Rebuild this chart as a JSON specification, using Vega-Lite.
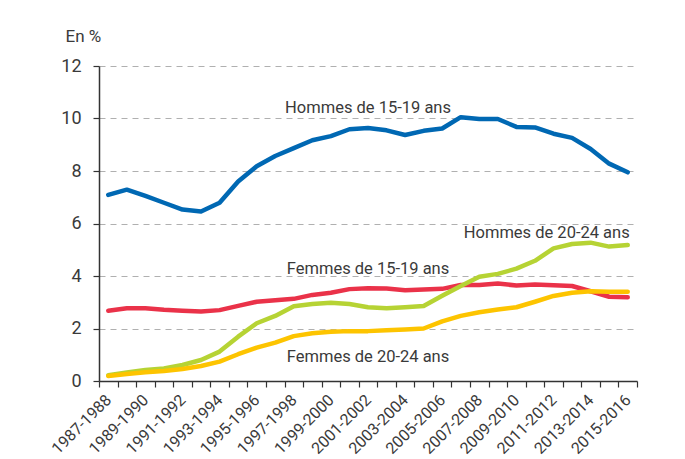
{
  "$schema": "https://vega.github.io/schema/vega-lite/v6.json",
  "width": 538,
  "height": 315,
  "autosize": {"type": "none"},
  "padding": {"left": 99, "top": 66, "right": 48, "bottom": 78},
  "background": "white",
  "config": {
    "view": {"stroke": null},
    "font": "Roboto",
    "text": {"font": "Roboto"}
  },
  "datasets": {
    "taux": [
      {"periode": "1987-1988", "serie": "Femmes de 15-19 ans", "taux": 2.68},
      {"periode": "1988-1989", "serie": "Femmes de 15-19 ans", "taux": 2.77},
      {"periode": "1989-1990", "serie": "Femmes de 15-19 ans", "taux": 2.77},
      {"periode": "1990-1991", "serie": "Femmes de 15-19 ans", "taux": 2.71},
      {"periode": "1991-1992", "serie": "Femmes de 15-19 ans", "taux": 2.68},
      {"periode": "1992-1993", "serie": "Femmes de 15-19 ans", "taux": 2.65},
      {"periode": "1993-1994", "serie": "Femmes de 15-19 ans", "taux": 2.70},
      {"periode": "1994-1995", "serie": "Femmes de 15-19 ans", "taux": 2.86},
      {"periode": "1995-1996", "serie": "Femmes de 15-19 ans", "taux": 3.02},
      {"periode": "1996-1997", "serie": "Femmes de 15-19 ans", "taux": 3.08},
      {"periode": "1997-1998", "serie": "Femmes de 15-19 ans", "taux": 3.13},
      {"periode": "1998-1999", "serie": "Femmes de 15-19 ans", "taux": 3.28},
      {"periode": "1999-2000", "serie": "Femmes de 15-19 ans", "taux": 3.36},
      {"periode": "2000-2001", "serie": "Femmes de 15-19 ans", "taux": 3.50},
      {"periode": "2001-2002", "serie": "Femmes de 15-19 ans", "taux": 3.53},
      {"periode": "2002-2003", "serie": "Femmes de 15-19 ans", "taux": 3.52},
      {"periode": "2003-2004", "serie": "Femmes de 15-19 ans", "taux": 3.46},
      {"periode": "2004-2005", "serie": "Femmes de 15-19 ans", "taux": 3.49},
      {"periode": "2005-2006", "serie": "Femmes de 15-19 ans", "taux": 3.51},
      {"periode": "2006-2007", "serie": "Femmes de 15-19 ans", "taux": 3.66},
      {"periode": "2007-2008", "serie": "Femmes de 15-19 ans", "taux": 3.66},
      {"periode": "2008-2009", "serie": "Femmes de 15-19 ans", "taux": 3.71},
      {"periode": "2009-2010", "serie": "Femmes de 15-19 ans", "taux": 3.64},
      {"periode": "2010-2011", "serie": "Femmes de 15-19 ans", "taux": 3.68},
      {"periode": "2011-2012", "serie": "Femmes de 15-19 ans", "taux": 3.65},
      {"periode": "2012-2013", "serie": "Femmes de 15-19 ans", "taux": 3.62},
      {"periode": "2013-2014", "serie": "Femmes de 15-19 ans", "taux": 3.42},
      {"periode": "2014-2015", "serie": "Femmes de 15-19 ans", "taux": 3.21},
      {"periode": "2015-2016", "serie": "Femmes de 15-19 ans", "taux": 3.19},
      {"periode": "1987-1988", "serie": "Hommes de 20-24 ans", "taux": 0.22},
      {"periode": "1988-1989", "serie": "Hommes de 20-24 ans", "taux": 0.32},
      {"periode": "1989-1990", "serie": "Hommes de 20-24 ans", "taux": 0.42},
      {"periode": "1990-1991", "serie": "Hommes de 20-24 ans", "taux": 0.48},
      {"periode": "1991-1992", "serie": "Hommes de 20-24 ans", "taux": 0.61},
      {"periode": "1992-1993", "serie": "Hommes de 20-24 ans", "taux": 0.80},
      {"periode": "1993-1994", "serie": "Hommes de 20-24 ans", "taux": 1.12},
      {"periode": "1994-1995", "serie": "Hommes de 20-24 ans", "taux": 1.69},
      {"periode": "1995-1996", "serie": "Hommes de 20-24 ans", "taux": 2.20},
      {"periode": "1996-1997", "serie": "Hommes de 20-24 ans", "taux": 2.48},
      {"periode": "1997-1998", "serie": "Hommes de 20-24 ans", "taux": 2.85},
      {"periode": "1998-1999", "serie": "Hommes de 20-24 ans", "taux": 2.93},
      {"periode": "1999-2000", "serie": "Hommes de 20-24 ans", "taux": 2.98},
      {"periode": "2000-2001", "serie": "Hommes de 20-24 ans", "taux": 2.93},
      {"periode": "2001-2002", "serie": "Hommes de 20-24 ans", "taux": 2.81},
      {"periode": "2002-2003", "serie": "Hommes de 20-24 ans", "taux": 2.77},
      {"periode": "2003-2004", "serie": "Hommes de 20-24 ans", "taux": 2.81},
      {"periode": "2004-2005", "serie": "Hommes de 20-24 ans", "taux": 2.86},
      {"periode": "2005-2006", "serie": "Hommes de 20-24 ans", "taux": 3.25},
      {"periode": "2006-2007", "serie": "Hommes de 20-24 ans", "taux": 3.62},
      {"periode": "2007-2008", "serie": "Hommes de 20-24 ans", "taux": 3.97},
      {"periode": "2008-2009", "serie": "Hommes de 20-24 ans", "taux": 4.08},
      {"periode": "2009-2010", "serie": "Hommes de 20-24 ans", "taux": 4.28},
      {"periode": "2010-2011", "serie": "Hommes de 20-24 ans", "taux": 4.58},
      {"periode": "2011-2012", "serie": "Hommes de 20-24 ans", "taux": 5.05},
      {"periode": "2012-2013", "serie": "Hommes de 20-24 ans", "taux": 5.22},
      {"periode": "2013-2014", "serie": "Hommes de 20-24 ans", "taux": 5.27},
      {"periode": "2014-2015", "serie": "Hommes de 20-24 ans", "taux": 5.12},
      {"periode": "2015-2016", "serie": "Hommes de 20-24 ans", "taux": 5.18},
      {"periode": "1987-1988", "serie": "Femmes de 20-24 ans", "taux": 0.19},
      {"periode": "1988-1989", "serie": "Femmes de 20-24 ans", "taux": 0.27},
      {"periode": "1989-1990", "serie": "Femmes de 20-24 ans", "taux": 0.33},
      {"periode": "1990-1991", "serie": "Femmes de 20-24 ans", "taux": 0.38},
      {"periode": "1991-1992", "serie": "Femmes de 20-24 ans", "taux": 0.46},
      {"periode": "1992-1993", "serie": "Femmes de 20-24 ans", "taux": 0.57},
      {"periode": "1993-1994", "serie": "Femmes de 20-24 ans", "taux": 0.74},
      {"periode": "1994-1995", "serie": "Femmes de 20-24 ans", "taux": 1.02},
      {"periode": "1995-1996", "serie": "Femmes de 20-24 ans", "taux": 1.27},
      {"periode": "1996-1997", "serie": "Femmes de 20-24 ans", "taux": 1.46},
      {"periode": "1997-1998", "serie": "Femmes de 20-24 ans", "taux": 1.71},
      {"periode": "1998-1999", "serie": "Femmes de 20-24 ans", "taux": 1.82},
      {"periode": "1999-2000", "serie": "Femmes de 20-24 ans", "taux": 1.88},
      {"periode": "2000-2001", "serie": "Femmes de 20-24 ans", "taux": 1.90},
      {"periode": "2001-2002", "serie": "Femmes de 20-24 ans", "taux": 1.90},
      {"periode": "2002-2003", "serie": "Femmes de 20-24 ans", "taux": 1.93},
      {"periode": "2003-2004", "serie": "Femmes de 20-24 ans", "taux": 1.96},
      {"periode": "2004-2005", "serie": "Femmes de 20-24 ans", "taux": 2.00},
      {"periode": "2005-2006", "serie": "Femmes de 20-24 ans", "taux": 2.27},
      {"periode": "2006-2007", "serie": "Femmes de 20-24 ans", "taux": 2.48},
      {"periode": "2007-2008", "serie": "Femmes de 20-24 ans", "taux": 2.62},
      {"periode": "2008-2009", "serie": "Femmes de 20-24 ans", "taux": 2.72},
      {"periode": "2009-2010", "serie": "Femmes de 20-24 ans", "taux": 2.81},
      {"periode": "2010-2011", "serie": "Femmes de 20-24 ans", "taux": 3.02},
      {"periode": "2011-2012", "serie": "Femmes de 20-24 ans", "taux": 3.24},
      {"periode": "2012-2013", "serie": "Femmes de 20-24 ans", "taux": 3.36},
      {"periode": "2013-2014", "serie": "Femmes de 20-24 ans", "taux": 3.42},
      {"periode": "2014-2015", "serie": "Femmes de 20-24 ans", "taux": 3.40},
      {"periode": "2015-2016", "serie": "Femmes de 20-24 ans", "taux": 3.40},
      {"periode": "1987-1988", "serie": "Hommes de 15-19 ans", "taux": 7.09},
      {"periode": "1988-1989", "serie": "Hommes de 15-19 ans", "taux": 7.29},
      {"periode": "1989-1990", "serie": "Hommes de 15-19 ans", "taux": 7.05},
      {"periode": "1990-1991", "serie": "Hommes de 15-19 ans", "taux": 6.79},
      {"periode": "1991-1992", "serie": "Hommes de 15-19 ans", "taux": 6.53},
      {"periode": "1992-1993", "serie": "Hommes de 15-19 ans", "taux": 6.46},
      {"periode": "1993-1994", "serie": "Hommes de 15-19 ans", "taux": 6.79},
      {"periode": "1994-1995", "serie": "Hommes de 15-19 ans", "taux": 7.60},
      {"periode": "1995-1996", "serie": "Hommes de 15-19 ans", "taux": 8.18},
      {"periode": "1996-1997", "serie": "Hommes de 15-19 ans", "taux": 8.57},
      {"periode": "1997-1998", "serie": "Hommes de 15-19 ans", "taux": 8.87},
      {"periode": "1998-1999", "serie": "Hommes de 15-19 ans", "taux": 9.17},
      {"periode": "1999-2000", "serie": "Hommes de 15-19 ans", "taux": 9.33},
      {"periode": "2000-2001", "serie": "Hommes de 15-19 ans", "taux": 9.59},
      {"periode": "2001-2002", "serie": "Hommes de 15-19 ans", "taux": 9.64},
      {"periode": "2002-2003", "serie": "Hommes de 15-19 ans", "taux": 9.55},
      {"periode": "2003-2004", "serie": "Hommes de 15-19 ans", "taux": 9.37},
      {"periode": "2004-2005", "serie": "Hommes de 15-19 ans", "taux": 9.53},
      {"periode": "2005-2006", "serie": "Hommes de 15-19 ans", "taux": 9.62},
      {"periode": "2006-2007", "serie": "Hommes de 15-19 ans", "taux": 10.05},
      {"periode": "2007-2008", "serie": "Hommes de 15-19 ans", "taux": 9.98},
      {"periode": "2008-2009", "serie": "Hommes de 15-19 ans", "taux": 9.98},
      {"periode": "2009-2010", "serie": "Hommes de 15-19 ans", "taux": 9.68},
      {"periode": "2010-2011", "serie": "Hommes de 15-19 ans", "taux": 9.66},
      {"periode": "2011-2012", "serie": "Hommes de 15-19 ans", "taux": 9.42},
      {"periode": "2012-2013", "serie": "Hommes de 15-19 ans", "taux": 9.26},
      {"periode": "2013-2014", "serie": "Hommes de 15-19 ans", "taux": 8.84},
      {"periode": "2014-2015", "serie": "Hommes de 15-19 ans", "taux": 8.28},
      {"periode": "2015-2016", "serie": "Hommes de 15-19 ans", "taux": 7.95}
    ],
    "etiquettes": [
      {"serie": "Hommes de 15-19 ans", "periode": "2001-2002", "taux": 10.22},
      {"serie": "Femmes de 15-19 ans", "periode": "2001-2002", "taux": 4.06},
      {"serie": "Femmes de 20-24 ans", "periode": "2001-2002", "taux": 0.72}
    ],
    "etiquette_droite": [
      {"serie": "Hommes de 20-24 ans", "periode": "2015-2016", "taux": 5.45}
    ]
  },
  "encoding": {
    "x": {
      "field": "periode",
      "type": "ordinal",
      "bandPosition": 0.5,
      "scale": {"type": "band", "paddingInner": 0, "paddingOuter": 0},
      "axis": {
        "title": null,
        "tickBand": "extent",
        "labelExpr": "isString(datum.value) && toNumber(substring(datum.value, 0, 4)) % 2 == 1 ? datum.value : ''",
        "labelAngle": -45,
        "labelAlign": "right",
        "labelBaseline": "middle",
        "labelFontSize": 16,
        "labelColor": "#3a3a3a",
        "labelPadding": 10,
        "labelOverlap": false,
        "tickSize": 6,
        "tickColor": "#333333",
        "tickWidth": 1.2,
        "domainColor": "#333333",
        "domainWidth": 1.5,
        "grid": false
      }
    },
    "y": {
      "field": "taux",
      "type": "quantitative",
      "scale": {"domain": [0, 12], "nice": false},
      "axis": {
        "values": [0, 2, 4, 6, 8, 10, 12],
        "title": "En %",
        "titleAngle": 0,
        "titleAlign": "left",
        "titleBaseline": "middle",
        "titleX": -34,
        "titleY": -30,
        "titleFontSize": 17,
        "titleFontWeight": "normal",
        "titleColor": "#3a3a3a",
        "labelFontSize": 18,
        "labelColor": "#3a3a3a",
        "labelPadding": 12,
        "tickSize": 6,
        "tickColor": "#333333",
        "tickWidth": 1.2,
        "domainColor": "#333333",
        "domainWidth": 1.5,
        "grid": true,
        "gridColor": "#b0b0b0",
        "gridDash": [6, 5],
        "gridWidth": 1
      }
    }
  },
  "layer": [
    {
      "data": {"name": "taux"},
      "mark": {"type": "line", "strokeWidth": 4.5, "strokeCap": "round", "strokeJoin": "round"},
      "encoding": {
        "color": {
          "field": "serie",
          "type": "nominal",
          "sort": ["Femmes de 15-19 ans", "Hommes de 20-24 ans", "Femmes de 20-24 ans", "Hommes de 15-19 ans"],
          "scale": {
            "domain": ["Femmes de 15-19 ans", "Hommes de 20-24 ans", "Femmes de 20-24 ans", "Hommes de 15-19 ans"],
            "range": ["#ea3249", "#b6d334", "#fdc400", "#0068b3"]
          },
          "legend": null
        }
      }
    },
    {
      "data": {"name": "etiquettes"},
      "mark": {"type": "text", "fontSize": 16.5, "color": "#3a3a3a", "baseline": "alphabetic", "align": "center"},
      "encoding": {
        "text": {"field": "serie"}
      }
    },
    {
      "data": {"name": "etiquette_droite"},
      "mark": {"type": "text", "fontSize": 16.5, "color": "#3a3a3a", "baseline": "alphabetic", "align": "right", "dx": 2},
      "encoding": {
        "text": {"field": "serie"}
      }
    }
  ]
}
